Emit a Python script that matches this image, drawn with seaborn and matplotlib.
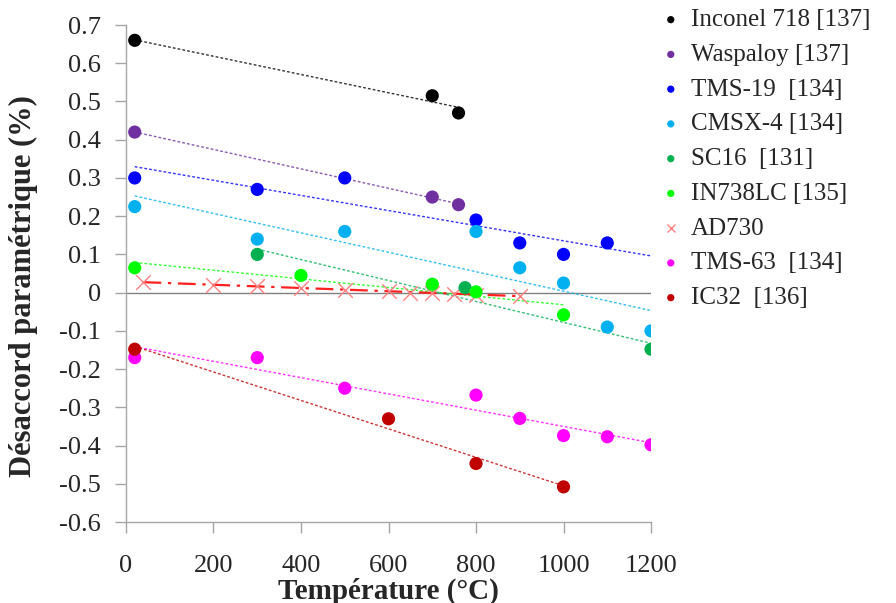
import numpy as np
import pandas as pd
import matplotlib
matplotlib.use("Agg")
import matplotlib.pyplot as plt
import seaborn as sns

# ---- data ----
inconel_T = [20, 700, 760]
inconel_v = [0.66, 0.515, 0.47]
waspaloy_T = [20, 700, 760]
waspaloy_v = [0.42, 0.25, 0.23]
tms19_T = [20, 300, 500, 800, 900, 1000, 1100]
tms19_v = [0.30, 0.27, 0.30, 0.19, 0.13, 0.10, 0.13]
cmsx4_T = [20, 300, 500, 800, 900, 1000, 1100, 1200]
cmsx4_v = [0.225, 0.14, 0.16, 0.16, 0.065, 0.025, -0.09, -0.10]
sc16_T = [300, 775, 1200]
sc16_v = [0.10, 0.013, -0.148]
in738_T = [20, 400, 700, 800, 1000]
in738_v = [0.065, 0.045, 0.022, 0.002, -0.058]
ad730_T = [40, 200, 300, 400, 500, 600, 650, 700, 750, 800, 900]
ad730_v = [0.028, 0.02, 0.017, 0.012, 0.008, 0.003, 0.0, 0.0, -0.003, -0.005, -0.008]
tms63_T = [20, 300, 500, 800, 900, 1000, 1100, 1200]
tms63_v = [-0.17, -0.17, -0.25, -0.268, -0.329, -0.374, -0.377, -0.398]
ic32_T = [20, 600, 800, 1000]
ic32_v = [-0.148, -0.33, -0.447, -0.508]

labels = ["Inconel 718 [137]", "Waspaloy [137]", "TMS-19  [134]", "CMSX-4 [134]",
          "SC16  [131]", "IN738LC [135]", "AD730", "TMS-63  [134]", "IC32  [136]"]
temps = [inconel_T, waspaloy_T, tms19_T, cmsx4_T, sc16_T, in738_T, ad730_T, tms63_T, ic32_T]
vals = [inconel_v, waspaloy_v, tms19_v, cmsx4_v, sc16_v, in738_v, ad730_v, tms63_v, ic32_v]
colors = ["#000000", "#7030A0", "#0000FF", "#00B0F0", "#00B050", "#00FF00",
          "#FF0000", "#FF00FF", "#C00000"]
# trend-line extents (x from, x to)
trend_range = [(20, 765), (20, 765), (20, 1200), (20, 1200), (300, 1200),
               (20, 1000), (40, 900), (20, 1200), (20, 1000)]

sns.set_style("ticks")
plt.rcParams['font.family'] = ['Liberation Serif', 'DejaVu Serif']

fig = plt.figure(figsize=(8.96, 6.03), dpi=100)
ax = fig.add_axes([0.1406, 0.1343, 0.586, 0.8242])

ax.axhline(0, color="#808080", lw=1.0, zorder=1)

for lab, T, v, c, (x0, x1) in zip(labels, temps, vals, colors, trend_range):
    df = pd.DataFrame({"T": T, "v": v})
    k, b = np.polyfit(T, v, 1)
    xs = np.array([x0, x1])
    if lab == "AD730":
        ax.plot(xs, k * xs + b, color="#FF2020", lw=1.6, ls=(0, (8, 3, 1.5, 3)), zorder=2)
        sns.scatterplot(data=df, x="T", y="v", ax=ax, marker="x", s=110,
                        color="#FF8080", linewidth=1.0, label=lab, zorder=3)
    else:
        ax.plot(xs, k * xs + b, color=c, lw=1.0, ls=(0, (2, 1.5)), alpha=0.8, zorder=2)
        sns.scatterplot(data=df, x="T", y="v", ax=ax, marker="o", s=90,
                        color=c, edgecolor="none", linewidth=0, label=lab, zorder=4)

ax.set_xlim(0, 1200)
ax.set_ylim(-0.6, 0.7)
ax.set_xticks(np.arange(0, 1201, 200))
yt = np.round(np.arange(-0.6, 0.71, 0.1), 1)
ax.set_yticks(yt)
ax.set_yticklabels([("0" if abs(t) < 1e-9 else f"{t:.1f}") for t in yt])
for s in ["top", "right"]:
    ax.spines[s].set_visible(False)
for s in ["left", "bottom"]:
    ax.spines[s].set_color("#A6A6A6")
    ax.spines[s].set_linewidth(1.0)
ax.tick_params(axis="both", which="major", length=8, width=1.0, color="#A6A6A6",
               labelsize=19, direction="out")
ax.tick_params(axis="y", pad=10)
ax.tick_params(axis="x", pad=16)
ax.set_xlabel("Température (°C)", fontsize=21, fontweight="bold", labelpad=0)
ax.set_ylabel("Désaccord paramétrique (%)", fontsize=22, fontweight="bold")
ax.yaxis.set_label_coords(-0.168, 0.475)

leg = ax.legend(loc="upper left", bbox_to_anchor=(0.99, 1.068), frameon=False,
                fontsize=18, markerscale=0.55, handlelength=0.6, handletextpad=0.5,
                labelspacing=0.49, borderaxespad=0.3)

fig.savefig("out.png", dpi=100)
